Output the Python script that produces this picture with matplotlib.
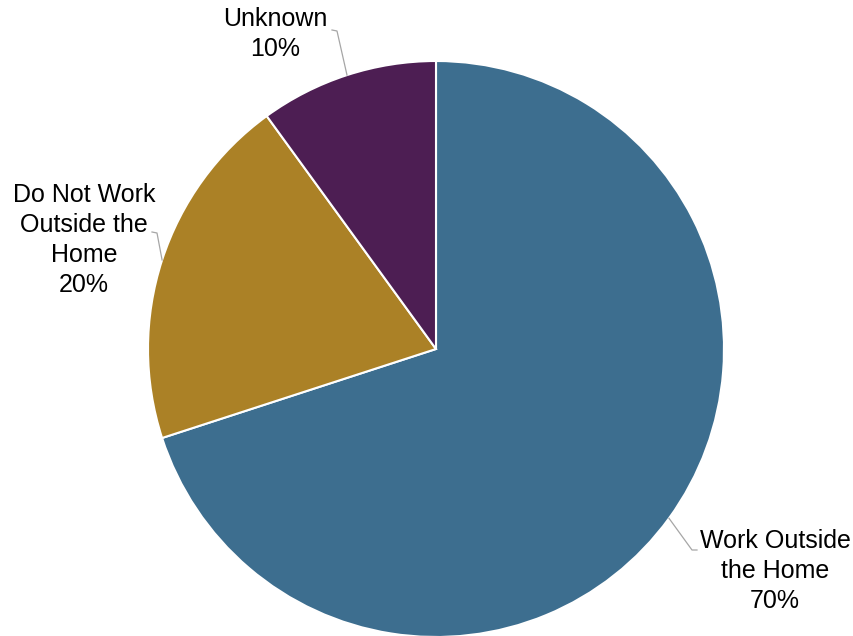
import numpy as np
import matplotlib.pyplot as plt

plt.rcParams['font.family'] = ['Liberation Sans', 'DejaVu Sans']

categories = ['Work Outside\nthe Home', 'Do Not Work\nOutside the\nHome', 'Unknown']
shares = [70, 20, 10]
colors = ['#3D6E8F', '#AB8126', '#4D1E53']

W, H = 854, 636
CX, CY, R = 436, H - 349, 288

fig = plt.figure(figsize=(W / 100, H / 100), dpi=100)
ax = fig.add_axes([0, 0, 1, 1])

wedges, _ = ax.pie(shares, colors=colors, startangle=90, counterclock=False,
                   center=(CX, CY), radius=R,
                   wedgeprops=dict(edgecolor='white', linewidth=1.5))

# pie() resets the view, so set pixel-sized limits afterwards
ax.set_xlim(0, W)
ax.set_ylim(0, H)
ax.set_aspect('equal')
ax.axis('off')

# label text centre, elbow of leader line, end of leader line
label_pos = [(775, H - 571), (84, H - 240), (275, H - 34)]
elbows = [(692, H - 550), (157, H - 233), (337, H - 31)]
ends = [(697, H - 550), (152, H - 232), (332, H - 30)]

for w, cat, val, lp, el, en in zip(wedges, categories, shares, label_pos, elbows, ends):
    # leader line starts at the middle of the wedge's outer edge
    ang = np.deg2rad((w.theta1 + w.theta2) / 2)
    p = (CX + R * np.cos(ang), CY + R * np.sin(ang))
    ax.plot([p[0], el[0], en[0]], [p[1], el[1], en[1]], color='#A6A6A6', lw=0.9)
    ax.text(lp[0], lp[1], f'{cat}\n{val}%', ha='center', va='center',
            fontsize=18, linespacing=1.3, color='black')

fig.savefig('out.png', dpi=100)
